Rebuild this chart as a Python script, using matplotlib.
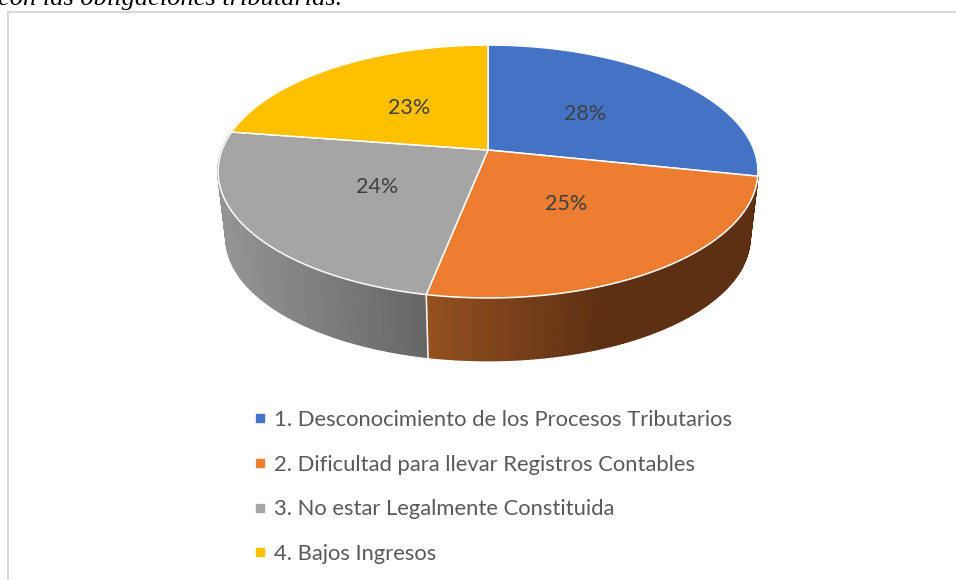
import numpy as np
import matplotlib
matplotlib.use("Agg")
import matplotlib.pyplot as plt
from matplotlib.collections import PolyCollection
from matplotlib.lines import Line2D
from matplotlib.patches import Polygon

categories = ["1. Desconocimiento de los Procesos Tributarios",
              "2. Dificultad para llevar Registros Contables",
              "3. No estar Legalmente Constituida",
              "4. Bajos Ingresos"]
values = [28.3, 24.8, 24.3, 22.6]
colors = ["#4472C4", "#ED7D31", "#A5A5A5", "#FFC000"]
heading = "con las obligaciones tributarias."

CX, CY = 488.0, 150.0
B, A, K = 266.0, 122.8, 0.17
BOTTOM_SCALE, BOTTOM_DY = 0.97, 67.0

def project(theta, r=1.0, scale=1.0, dy=0.0):
    """Clockwise angle from 12 o'clock -> perspective pixel position."""
    s, c = np.cos(theta) * r, np.sin(theta) * r
    d = 1 + K * s
    return CX + scale * B * c / d, CY + dy - scale * A * s / d

def wall_color(x, i):
    if i == 2:
        stops = ([226, 425], [(0x93,)*3, (0x66,)*3])
    else:
        stops = ([425, 600, 758], [(0x94, 0x51, 0x20), (0x5E, 0x30, 0x13), (0x5E, 0x30, 0x13)])
    arr = np.array(stops[1], float) / 255
    return tuple(np.interp(x, stops[0], arr[:, j]) for j in range(3))

fig = plt.figure(figsize=(9.56, 5.8), dpi=100, facecolor="white")
ax = fig.add_axes([0, 0, 1, 1])
ax.set_xlim(0, 956)
ax.set_ylim(580, 0)
ax.axis("off")

# chart frame and the clipped document line above it
ax.plot([8, 8, 956], [580, 12, 12], color="#D9D9D9", lw=1.5, solid_joinstyle="miter")
ax.text(-2, 4.5, heading, family="Liberation Serif", style="italic", fontsize=19,
        color="black", ha="left", va="baseline")

fractions = np.cumsum([0] + values) / sum(values) * 2 * np.pi

# side walls (only the slices in front are visible)
for i in (2, 1):
    th = np.linspace(fractions[i], fractions[i + 1], 120)
    xt, yt = project(th)
    xb, yb = project(th, scale=BOTTOM_SCALE, dy=BOTTOM_DY)
    quads, fc = [], []
    for j in range(len(th) - 1):
        quads.append([(xt[j], yt[j]), (xt[j + 1], yt[j + 1]), (xb[j + 1], yb[j + 1]), (xb[j], yb[j])])
        fc.append(wall_color((xt[j] + xt[j + 1]) / 2, i))
    ax.add_collection(PolyCollection(quads, facecolors=fc, edgecolors=fc, linewidths=1.2))

# seam between the two visible walls
xs0, ys0 = project(fractions[2])
xs1, ys1 = project(fractions[2], scale=BOTTOM_SCALE, dy=BOTTOM_DY)
ax.plot([xs0, xs1], [ys0, ys1], color="#F2F2F2", lw=1.2)

# top faces
for i, col in enumerate(colors):
    th = np.linspace(fractions[i], fractions[i + 1], 200)
    xt, yt = project(th)
    pts = np.column_stack([np.r_[CX, xt], np.r_[CY, yt]])
    ax.add_patch(Polygon(pts, closed=True, facecolor=col, edgecolor="white",
                         linewidth=1.1, joinstyle="round"))

# percentage labels
for i, v in enumerate(values):
    mid = (fractions[i] + fractions[i + 1]) / 2
    x, y = project(mid, r=0.49)
    ax.text(x + 1, y + 0.5, f"{round(v)}%", family="Lato", fontsize=15.5, color="#404040",
            ha="center", va="center")

# legend
handles = [Line2D([], [], linestyle="none", marker="s", markersize=6.2, color=c) for c in colors]
ax.legend(handles, categories, loc="upper left", bbox_to_anchor=(252, 410),
          bbox_transform=ax.transData, frameon=False, prop={"family": "Lato", "size": 15.8},
          labelcolor="#595959", labelspacing=1.125, handlelength=0.7, handletextpad=0.3,
          borderpad=0, borderaxespad=0)

fig.savefig("out.png", dpi=100, facecolor="white")
